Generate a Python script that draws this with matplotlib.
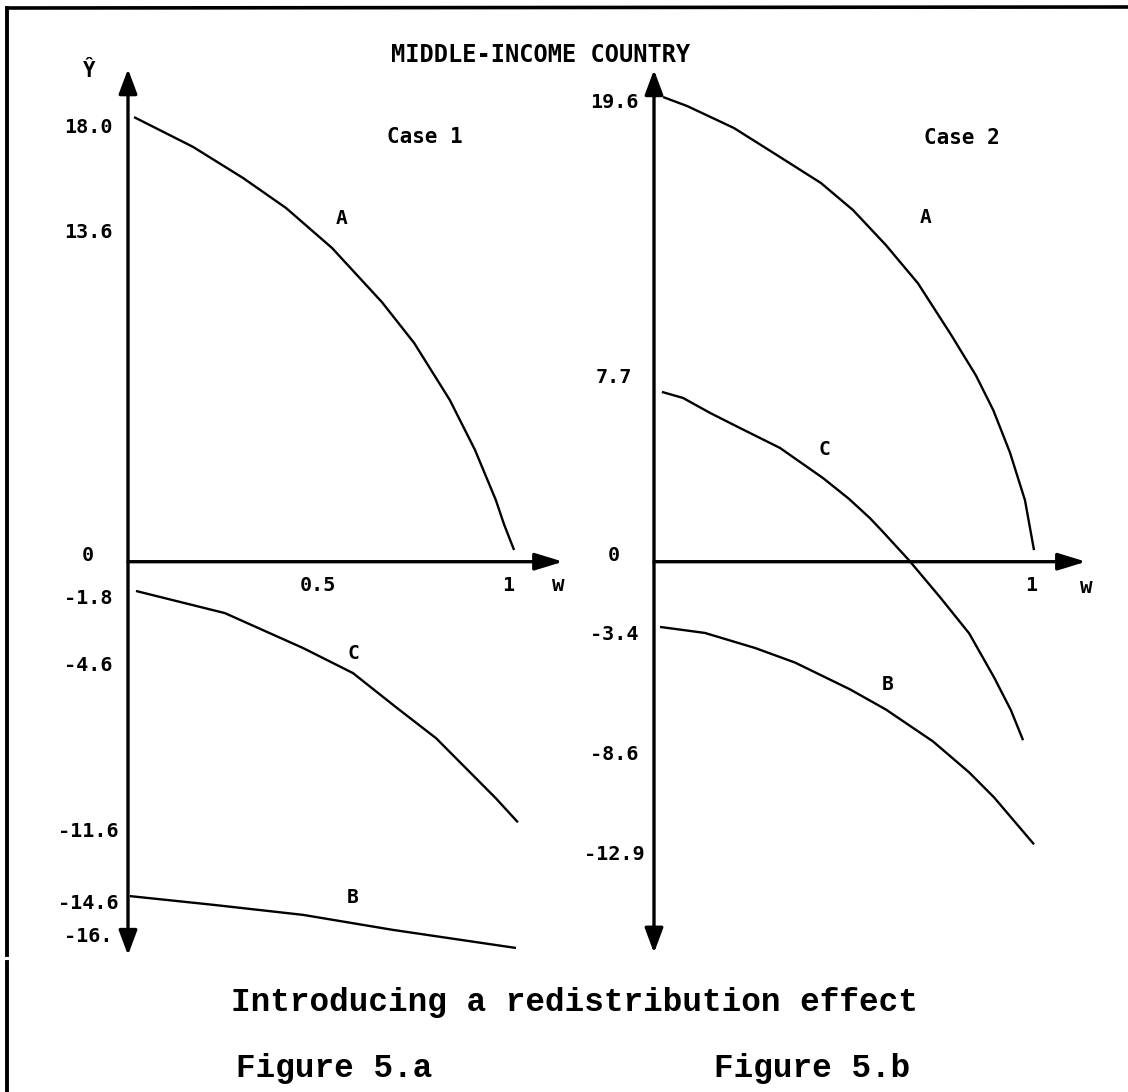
import matplotlib
matplotlib.use("Agg")
import matplotlib.pyplot as plt
from matplotlib.lines import Line2D
from matplotlib.transforms import offset_copy

# ---------------- data ----------------
title = "MIDDLE-INCOME COUNTRY"
heading = "Introducing a redistribution effect"
figure_names = ["Figure 5.a", "Figure 5.b"]
case_names = ["Case 1", "Case 2"]
x_name = "w"
y_name = "Ŷ"
curve_names = ["A", "B", "C"]

# Case 1 (left)
left_A_w = [0.016, 0.171, 0.303, 0.416, 0.537, 0.668, 0.753, 0.847, 0.913, 0.968, 0.990, 1.016]
left_A_y = [18.68, 17.43, 16.12, 14.86, 13.18, 10.91, 9.19, 6.79, 4.70, 2.59, 1.55, 0.49]
left_C_w = [0.021, 0.255, 0.461, 0.592, 0.705, 0.811, 0.968, 1.026]
left_C_y = [-1.23, -2.16, -3.63, -4.68, -6.11, -7.42, -9.94, -10.95]
left_B_w = [0.005, 0.226, 0.461, 0.697, 1.021]
left_B_y = [-14.05, -14.42, -14.84, -15.47, -16.23]
left_yticks = [18.0, 13.6, 0.0, -1.8, -4.6, -11.6, -14.6, -16.0]
left_yticklabels = ["18.0", "13.6", "0", "-1.8", "-4.6", "-11.6", "-14.6", "-16."]
left_xticks = [0.5, 1.0]
left_xticklabels = ["0.5", "1"]

# Case 2 (right)
right_A_w = [0.024, 0.088, 0.212, 0.326, 0.443, 0.528, 0.615, 0.700, 0.788, 0.854, 0.900, 0.944, 0.984, 1.008]
right_A_y = [20.09, 19.70, 18.75, 17.58, 16.37, 15.20, 13.69, 12.04, 9.81, 8.05, 6.55, 4.73, 2.66, 0.50]
right_C_w = [0.021, 0.077, 0.149, 0.228, 0.334, 0.448, 0.517, 0.573, 0.605, 0.676, 0.759, 0.836, 0.902, 0.947, 0.979]
right_C_y = [7.34, 7.08, 6.43, 5.78, 4.92, 3.62, 2.72, 1.88, 1.33, 0.07, -1.54, -3.10, -5.00, -6.43, -7.72]
right_B_w = [0.016, 0.135, 0.268, 0.374, 0.520, 0.615, 0.740, 0.836, 0.902, 1.008]
right_B_y = [-2.82, -3.08, -3.73, -4.36, -5.52, -6.39, -7.77, -9.11, -10.19, -12.22]
right_yticks = [19.6, 7.7, 0.0, -3.4, -8.6, -12.9]
right_yticklabels = ["19.6", "7.7", "0", "-3.4", "-8.6", "-12.9"]
right_xticks = [1.0]
right_xticklabels = ["1"]

# ---------------- layout ----------------
W, H, DPI = 1128, 1092, 100
fig = plt.figure(figsize=(W / DPI, H / DPI), dpi=DPI)
fig.patch.set_facecolor("white")

LAB_FONT = dict(family="DejaVu Sans Mono", weight="bold", color="black")
SERIF_FONT = dict(family=["Liberation Mono", "DejaVu Sans Mono"], weight="bold", color="black")


def make_axes(x0_px, y0_px, sx, sy, xlim, ylim):
    left = x0_px + xlim[0] * sx
    right = x0_px + xlim[1] * sx
    top = y0_px - ylim[1] * sy
    bottom = y0_px - ylim[0] * sy
    ax = fig.add_axes([left / W, 1 - bottom / H, (right - left) / W, (bottom - top) / H])
    ax.set_xlim(*xlim)
    ax.set_ylim(*ylim)
    ax.axis("off")
    ax.patch.set_alpha(0)
    return ax


panels = [
    dict(origin=(128, 561.7), sx=380, sy=23.8, xlim=(-0.3, 1.2), ylim=(-18.0, 21.0),
         ytop=20.70, ybot=-16.53, xtip=1.145,
         curves=[(left_A_w, left_A_y), (left_B_w, left_B_y), (left_C_w, left_C_y)],
         yt=left_yticks, ytl=left_yticklabels, xt=left_xticks, xtl=left_xticklabels,
         name_pos=[(0.561, 14.44), (0.592, -14.09), (0.592, -3.84)],
         case_pos=(0.782, 17.84), w_pos=(1.132, -0.98)),
    dict(origin=(654, 561.7), sx=377, sy=23.13, xlim=(-0.3, 1.2), ylim=(-18.5, 21.5),
         ytop=21.26, ybot=-16.91, xtip=1.146,
         curves=[(right_A_w, right_A_y), (right_B_w, right_B_y), (right_C_w, right_C_y)],
         yt=right_yticks, ytl=right_yticklabels, xt=right_xticks, xtl=right_xticklabels,
         name_pos=[(0.721, 14.86), (0.621, -5.33), (0.451, 4.87)],
         case_pos=(0.817, 18.32), w_pos=(1.146, -1.09)),
]

axes = []
for i, p in enumerate(panels):
    ax = make_axes(p["origin"][0], p["origin"][1], p["sx"], p["sy"], p["xlim"], p["ylim"])
    axes.append(ax)
    # axes with arrows
    ax.annotate("", xy=(0, p["ytop"]), xytext=(0, p["ybot"]),
                arrowprops=dict(arrowstyle="<|-|>,head_length=0.75,head_width=0.28",
                                mutation_scale=20, lw=2.4, color="black",
                                shrinkA=0, shrinkB=0), annotation_clip=False)
    ax.annotate("", xy=(p["xtip"], 0), xytext=(0, 0),
                arrowprops=dict(arrowstyle="-|>,head_length=0.85,head_width=0.26",
                                mutation_scale=20, lw=2.4, color="black",
                                shrinkA=0, shrinkB=0), annotation_clip=False)
    # curves
    for (wv, yv) in p["curves"]:
        ax.plot(wv, yv, color="black", lw=1.7, solid_capstyle="butt",
                solid_joinstyle="round", clip_on=False)
    # curve names
    for nm, pos in zip(curve_names, p["name_pos"]):
        ax.text(pos[0], pos[1], nm, ha="center", va="center", fontsize=14, **LAB_FONT)
    ax.text(*p["case_pos"], case_names[i], ha="center", va="center", fontsize=15, **LAB_FONT)
    ax.text(*p["w_pos"], x_name, ha="center", va="center", fontsize=15, **LAB_FONT)
    # tick labels
    ytr = offset_copy(ax.transData, fig=fig, x=-40, y=6, units="dots")
    for v, lab in zip(p["yt"], p["ytl"]):
        ax.text(0, v, lab, transform=ytr, ha="center", va="center", fontsize=14.5, **LAB_FONT)
    xtr = offset_copy(ax.transData, fig=fig, x=0, y=-24, units="dots")
    for v, lab in zip(p["xt"], p["xtl"]):
        ax.text(v, 0, lab, transform=xtr, ha="center", va="center", fontsize=14.5, **LAB_FONT)

# y-axis name on the left panel
axes[0].text(0, panels[0]["ytop"], y_name, transform=offset_copy(axes[0].transData, fig=fig, x=-39, y=-2, units="dots"),
             ha="center", va="center", fontsize=15, **LAB_FONT)

# title and captions (figure pixel coordinates)
fig.text(541 / W, 1 - 55 / H, title, ha="center", va="center", fontsize=17, **LAB_FONT)
fig.text(574 / W, 1 - 1003 / H, heading, ha="center", va="center", fontsize=23.5, **SERIF_FONT)
fig.text(334 / W, 1 - 1068 / H, figure_names[0], ha="center", va="center", fontsize=23.5, **SERIF_FONT)
fig.text(812 / W, 1 - 1068 / H, figure_names[1], ha="center", va="center", fontsize=23.5, **SERIF_FONT)

# page frame (top and left border of the scanned box)
fig.add_artist(Line2D([7 / W, 1.0], [1 - 8 / H, 1 - 7 / H], transform=fig.transFigure, lw=2.6, color="black"))
fig.add_artist(Line2D([7 / W, 7 / W], [1 - 8 / H, 1 - 955 / H], transform=fig.transFigure, lw=2.8, color="black"))
fig.add_artist(Line2D([7 / W, 7 / W], [1 - 962 / H, 0.0], transform=fig.transFigure, lw=2.8, color="black"))

fig.savefig("out.png", dpi=DPI, facecolor="white")
